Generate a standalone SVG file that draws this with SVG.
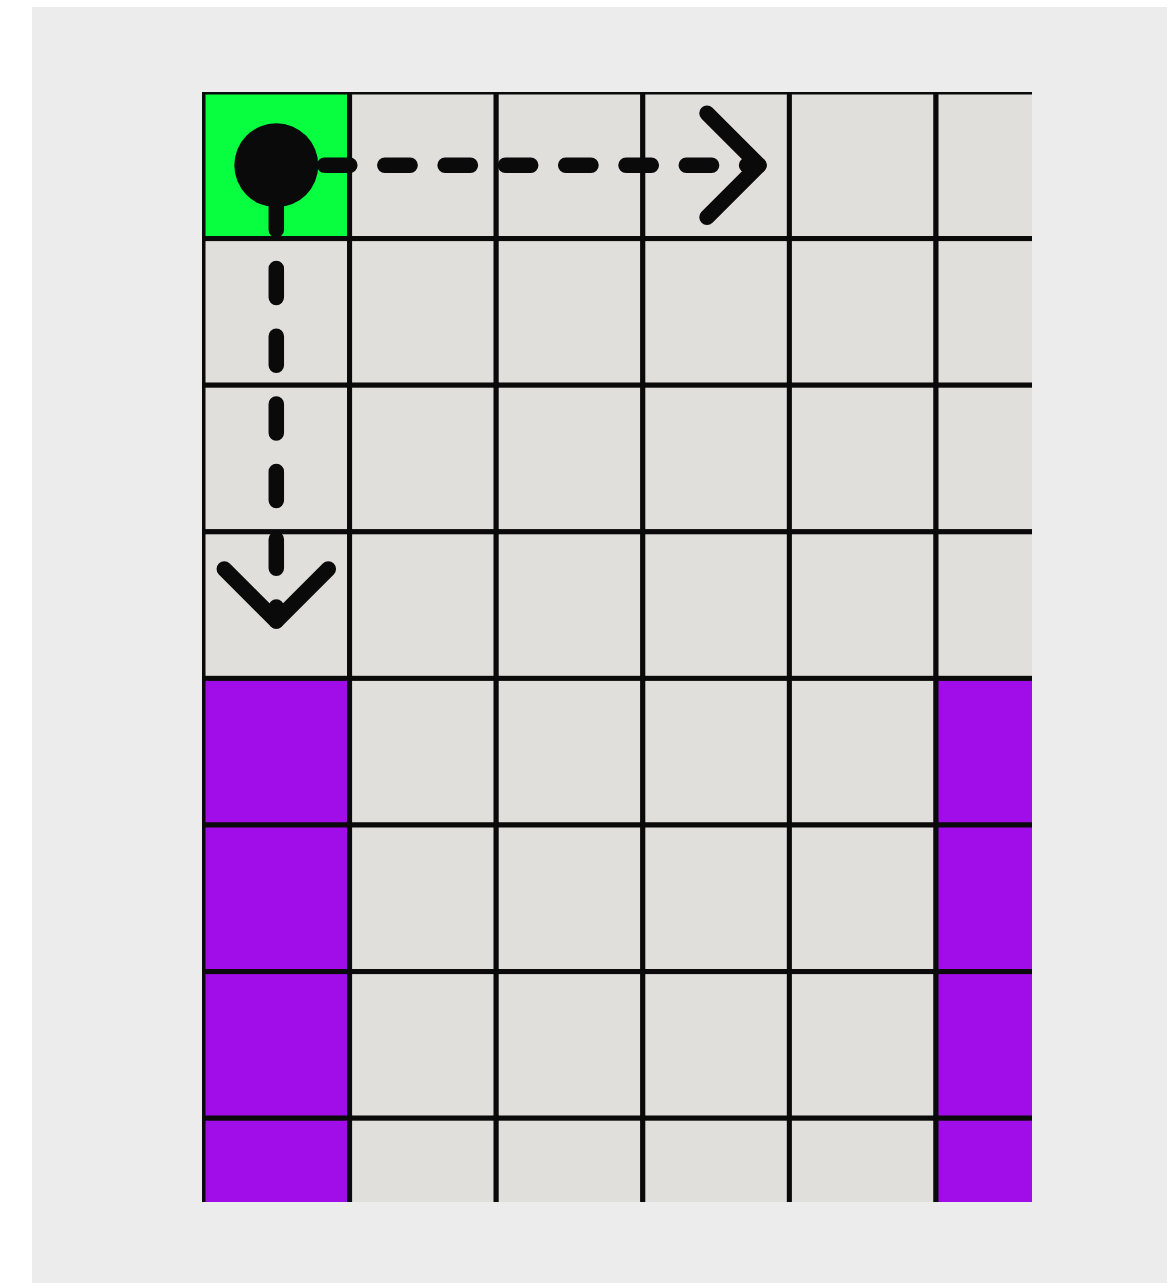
<svg xmlns="http://www.w3.org/2000/svg" width="1167" height="1283" viewBox="0 0 1167 1283">
<style>
.cell{fill:#e0dfdb;stroke:#0a0a0a;stroke-width:5}
.start{fill:#08ff40}
.wall{fill:#a00de8}
.conn{fill:none;stroke:#0a0a0a;stroke-width:15.5;stroke-linecap:round;stroke-linejoin:round}
</style>
<defs>
<clipPath id="gridclip"><rect x="202" y="92" width="830" height="1110"/></clipPath>
</defs>
<rect x="0" y="0" width="1167" height="1283" fill="#ffffff"/>
<rect x="32" y="7" width="1135" height="1276" fill="#ececec"/>
<g id="grid" clip-path="url(#gridclip)">
<g id="cell-0-0"><rect class="cell start" x="203" y="92" width="146.6" height="146.6"/></g>
<g id="cell-0-1"><rect class="cell" x="349.6" y="92" width="146.6" height="146.6"/></g>
<g id="cell-0-2"><rect class="cell" x="496.2" y="92" width="146.6" height="146.6"/></g>
<g id="cell-0-3"><rect class="cell" x="642.8" y="92" width="146.6" height="146.6"/></g>
<g id="cell-0-4"><rect class="cell" x="789.4" y="92" width="146.6" height="146.6"/></g>
<g id="cell-0-5"><rect class="cell" x="936" y="92" width="146.6" height="146.6"/></g>
<g id="cell-1-0"><rect class="cell" x="203" y="238.6" width="146.6" height="146.6"/></g>
<g id="cell-1-1"><rect class="cell" x="349.6" y="238.6" width="146.6" height="146.6"/></g>
<g id="cell-1-2"><rect class="cell" x="496.2" y="238.6" width="146.6" height="146.6"/></g>
<g id="cell-1-3"><rect class="cell" x="642.8" y="238.6" width="146.6" height="146.6"/></g>
<g id="cell-1-4"><rect class="cell" x="789.4" y="238.6" width="146.6" height="146.6"/></g>
<g id="cell-1-5"><rect class="cell" x="936" y="238.6" width="146.6" height="146.6"/></g>
<g id="cell-2-0"><rect class="cell" x="203" y="385.2" width="146.6" height="146.6"/></g>
<g id="cell-2-1"><rect class="cell" x="349.6" y="385.2" width="146.6" height="146.6"/></g>
<g id="cell-2-2"><rect class="cell" x="496.2" y="385.2" width="146.6" height="146.6"/></g>
<g id="cell-2-3"><rect class="cell" x="642.8" y="385.2" width="146.6" height="146.6"/></g>
<g id="cell-2-4"><rect class="cell" x="789.4" y="385.2" width="146.6" height="146.6"/></g>
<g id="cell-2-5"><rect class="cell" x="936" y="385.2" width="146.6" height="146.6"/></g>
<g id="cell-3-0"><rect class="cell" x="203" y="531.8" width="146.6" height="146.6"/></g>
<g id="cell-3-1"><rect class="cell" x="349.6" y="531.8" width="146.6" height="146.6"/></g>
<g id="cell-3-2"><rect class="cell" x="496.2" y="531.8" width="146.6" height="146.6"/></g>
<g id="cell-3-3"><rect class="cell" x="642.8" y="531.8" width="146.6" height="146.6"/></g>
<g id="cell-3-4"><rect class="cell" x="789.4" y="531.8" width="146.6" height="146.6"/></g>
<g id="cell-3-5"><rect class="cell" x="936" y="531.8" width="146.6" height="146.6"/></g>
<g id="cell-4-0"><rect class="cell wall" x="203" y="678.4" width="146.6" height="146.6"/></g>
<g id="cell-4-1"><rect class="cell" x="349.6" y="678.4" width="146.6" height="146.6"/></g>
<g id="cell-4-2"><rect class="cell" x="496.2" y="678.4" width="146.6" height="146.6"/></g>
<g id="cell-4-3"><rect class="cell" x="642.8" y="678.4" width="146.6" height="146.6"/></g>
<g id="cell-4-4"><rect class="cell" x="789.4" y="678.4" width="146.6" height="146.6"/></g>
<g id="cell-4-5"><rect class="cell wall" x="936" y="678.4" width="146.6" height="146.6"/></g>
<g id="cell-5-0"><rect class="cell wall" x="203" y="825" width="146.6" height="146.6"/></g>
<g id="cell-5-1"><rect class="cell" x="349.6" y="825" width="146.6" height="146.6"/></g>
<g id="cell-5-2"><rect class="cell" x="496.2" y="825" width="146.6" height="146.6"/></g>
<g id="cell-5-3"><rect class="cell" x="642.8" y="825" width="146.6" height="146.6"/></g>
<g id="cell-5-4"><rect class="cell" x="789.4" y="825" width="146.6" height="146.6"/></g>
<g id="cell-5-5"><rect class="cell wall" x="936" y="825" width="146.6" height="146.6"/></g>
<g id="cell-6-0"><rect class="cell wall" x="203" y="971.6" width="146.6" height="146.6"/></g>
<g id="cell-6-1"><rect class="cell" x="349.6" y="971.6" width="146.6" height="146.6"/></g>
<g id="cell-6-2"><rect class="cell" x="496.2" y="971.6" width="146.6" height="146.6"/></g>
<g id="cell-6-3"><rect class="cell" x="642.8" y="971.6" width="146.6" height="146.6"/></g>
<g id="cell-6-4"><rect class="cell" x="789.4" y="971.6" width="146.6" height="146.6"/></g>
<g id="cell-6-5"><rect class="cell wall" x="936" y="971.6" width="146.6" height="146.6"/></g>
<g id="cell-7-0"><rect class="cell wall" x="203" y="1118.2" width="146.6" height="146.6"/></g>
<g id="cell-7-1"><rect class="cell" x="349.6" y="1118.2" width="146.6" height="146.6"/></g>
<g id="cell-7-2"><rect class="cell" x="496.2" y="1118.2" width="146.6" height="146.6"/></g>
<g id="cell-7-3"><rect class="cell" x="642.8" y="1118.2" width="146.6" height="146.6"/></g>
<g id="cell-7-4"><rect class="cell" x="789.4" y="1118.2" width="146.6" height="146.6"/></g>
<g id="cell-7-5"><rect class="cell wall" x="936" y="1118.2" width="146.6" height="146.6"/></g>
</g>
<g id="connectors">
<path class="conn" d="M276.3 165.3 H759" stroke-dasharray="25.3 35" stroke-dashoffset="12.1"/>
<polyline class="conn" points="707,113.3 759,165.3 707,217.3"/>
<path class="conn" d="M276.3 165.3 V621" stroke-dasharray="29 38.7" stroke-dashoffset="32.2"/>
<polyline class="conn" points="224.3,569 276.3,621 328.3,569"/>
</g>
<g id="start-marker"><circle cx="276.3" cy="165.3" r="42" fill="#0a0a0a"/></g>
</svg>
